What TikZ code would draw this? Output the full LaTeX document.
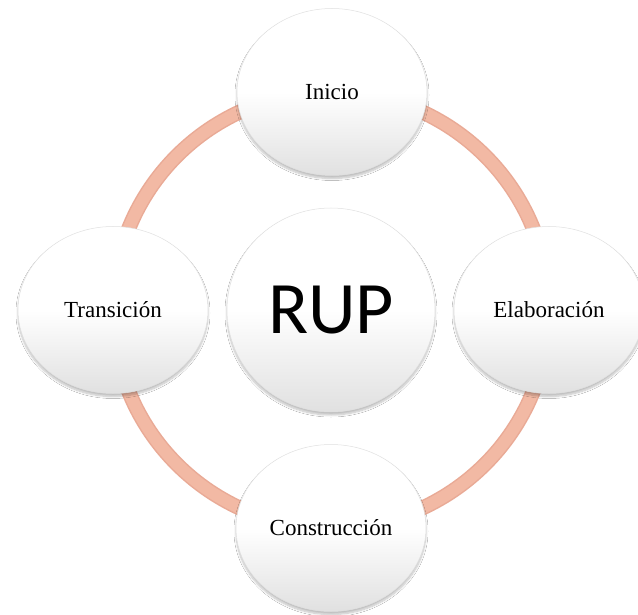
\documentclass[tikz,border=0pt]{standalone}
\usepackage{fontspec}
\setmainfont{Liberation Serif}
\newfontfamily\rupfont{Carlito}
\usetikzlibrary{shapes.geometric,shadows.blur}
\definecolor{ringedge}{RGB}{233,170,150}
\definecolor{ringfill}{RGB}{242,185,164}
\tikzset{
  phase/.style={ellipse, draw=black!12, line width=0.5pt,
    minimum width=190pt, minimum height=167pt, inner sep=0pt,
    top color=white, bottom color=black!12, middle color=white,
    font=\fontsize{23}{26}\selectfont,
    blur shadow={shadow xshift=0pt, shadow yshift=-3pt, shadow blur radius=2pt,
      shadow blur steps=8, shadow opacity=25}},
  hub/.style={phase, minimum width=208pt, minimum height=204pt,
    font=\rupfont\fontsize{74}{80}\selectfont}
}
\begin{document}
\begin{tikzpicture}[x=1pt,y=1pt]
  \useasboundingbox[fill=white] (0,0) rectangle (638,-615);
  % cycle ring behind the phases
  \draw[ringedge, line width=15pt] (331,-310) circle[radius=218];
  \draw[ringfill, line width=12pt] (331,-310) circle[radius=218];
  % phases
  \node[hub]   (rup)    at (331,-310) {RUP};
  \node[phase] (inicio) at (332,-92)  {Inicio};
  \node[phase] (elab)   at (549,-310) {Elaboración};
  \node[phase] (constr) at (331,-528) {Construcción};
  \node[phase] (trans)  at (113,-310) {Transición};
\end{tikzpicture}
\end{document}
